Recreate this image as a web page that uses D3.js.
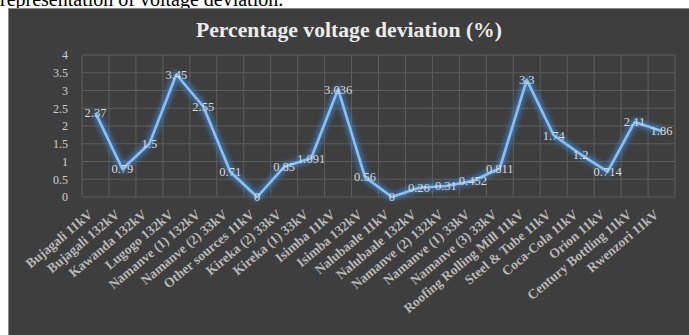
<!DOCTYPE html>
<html><head><meta charset="utf-8">
<script src="https://cdn.jsdelivr.net/npm/d3@7"></script>
<style>
html,body{margin:0;padding:0;background:#fff;}
svg{display:block;}
</style></head>
<body>
<svg id="c" width="689" height="335"></svg>
<script>
const categories = ["Bujagali 11kV","Bujagali 132kV","Kawanda 132kV","Lugogo 132kV","Namanve (1) 132kV","Namanve (2) 33kV","Other sources 11kV","Kireka (2) 33kV","Kireka (1) 33kV","Isimba 11kV","Isimba 132kV","Nalubaale 11kV","Nalubaale 132kV","Namanve (2) 132kV","Namanve (1) 33kV","Namanve (3) 33kV","Roofing Rolling Mill 11kV","Steel & Tube 11kV","Coca-Cola 11kV","Orion 11kV","Century Bottling 11kV","Rwenzori 11kV"];
const values = [2.37,0.79,1.5,3.45,2.55,0.71,0,0.85,1.091,3.036,0.56,0,0.26,0.31,0.452,0.811,3.3,1.74,1.2,0.714,2.11,1.86];
const labels = ["2.37","0.79","1.5","3.45","2.55","0.71","0","0.85","1.091","3.036","0.56","0","0.26","0.31","0.452","0.811","3.3","1.74","1.2","0.714","2.11","1.86"];
const yTicks = [0,0.5,1,1.5,2,2.5,3,3.5,4];
const title = "Percentage voltage deviation (%)";
const caption = "representation of voltage deviation.";

const svg = d3.select("#c");
const serif = "'Liberation Serif','Times New Roman',serif";

// caption above (cut off at the top, as in the source image)
svg.append("text").attr("x",0).attr("y",6).attr("font-family",serif).attr("font-size",20).attr("fill","#000").text(caption);

// dark panel
svg.append("rect").attr("x",8.5).attr("y",8.5).attr("width",690).attr("height",340)
  .attr("fill","#3e3e3e").attr("stroke","#8a8a8a").attr("stroke-width",1);

const x = d3.scaleBand().domain(categories).range([82,675]);
const y = d3.scaleLinear().domain([0,4]).range([197,55]);

svg.append("text").attr("x",349).attr("y",37).attr("text-anchor","middle")
  .attr("font-family",serif).attr("font-weight","bold").attr("font-size",20)
  .attr("textLength",306).attr("lengthAdjust","spacingAndGlyphs")
  .attr("fill","#ececec").text(title);

// gridlines
const g = svg.append("g");
g.selectAll("line.h").data(yTicks).join("line").attr("class","h")
  .attr("x1",82).attr("x2",675).attr("y1",d=>y(d)).attr("y2",d=>y(d))
  .attr("stroke","#5e5e5e").attr("stroke-width",1);
const vb = categories.map(c=>x(c)).concat([x.range()[1]]);
g.selectAll("line.v").data(vb).join("line").attr("class","v")
  .attr("x1",d=>d).attr("x2",d=>d).attr("y1",y(0)).attr("y2",y(4))
  .attr("stroke","#5e5e5e").attr("stroke-width",1);

// y axis
const ya = svg.append("g").attr("transform","translate(82,0)")
  .call(d3.axisLeft(y).tickValues(yTicks).tickSize(0).tickPadding(14).tickFormat(d=>String(d)));
ya.select(".domain").remove();
ya.selectAll("text").attr("font-family",serif).attr("font-size",12).attr("fill","#cfcfcf");

// x axis
const xa = svg.append("g").attr("transform","translate(0,197)")
  .call(d3.axisBottom(x).tickSize(0).tickPadding(0));
xa.select(".domain").remove();
xa.selectAll("text").attr("font-family",serif).attr("font-size",13.5).attr("font-weight","bold").attr("fill","#b8b8b8")
  .attr("text-anchor","end").attr("dy",0).attr("y",0)
  .attr("transform","translate(-2,19) rotate(-40)");

// glow filter
const defs = svg.append("defs");
const f = defs.append("filter").attr("id","glow").attr("x","-10%").attr("y","-10%").attr("width","120%").attr("height","120%");
f.append("feGaussianBlur").attr("stdDeviation",2.5);

const pts = categories.map((c,i)=>[x(c)+x.bandwidth()/2, y(values[i])]);
const line = d3.line();
svg.append("path").attr("d",line(pts)).attr("fill","none").attr("stroke","#3f86d6").attr("stroke-width",7)
  .attr("stroke-opacity",0.7).attr("filter","url(#glow)").attr("stroke-linejoin","round");
svg.append("path").attr("d",line(pts)).attr("fill","none").attr("stroke","#8cc0ef").attr("stroke-width",2.6)
  .attr("stroke-linejoin","round");

// data labels
svg.selectAll("text.lbl").data(pts).join("text").attr("class","lbl")
  .attr("x",d=>d[0]).attr("y",d=>d[1]).attr("dy","0.35em").attr("text-anchor","middle")
  .attr("font-family",serif).attr("font-size",12.5).attr("fill","#d8d8d8").text((d,i)=>labels[i]);
</script>
</body></html>
